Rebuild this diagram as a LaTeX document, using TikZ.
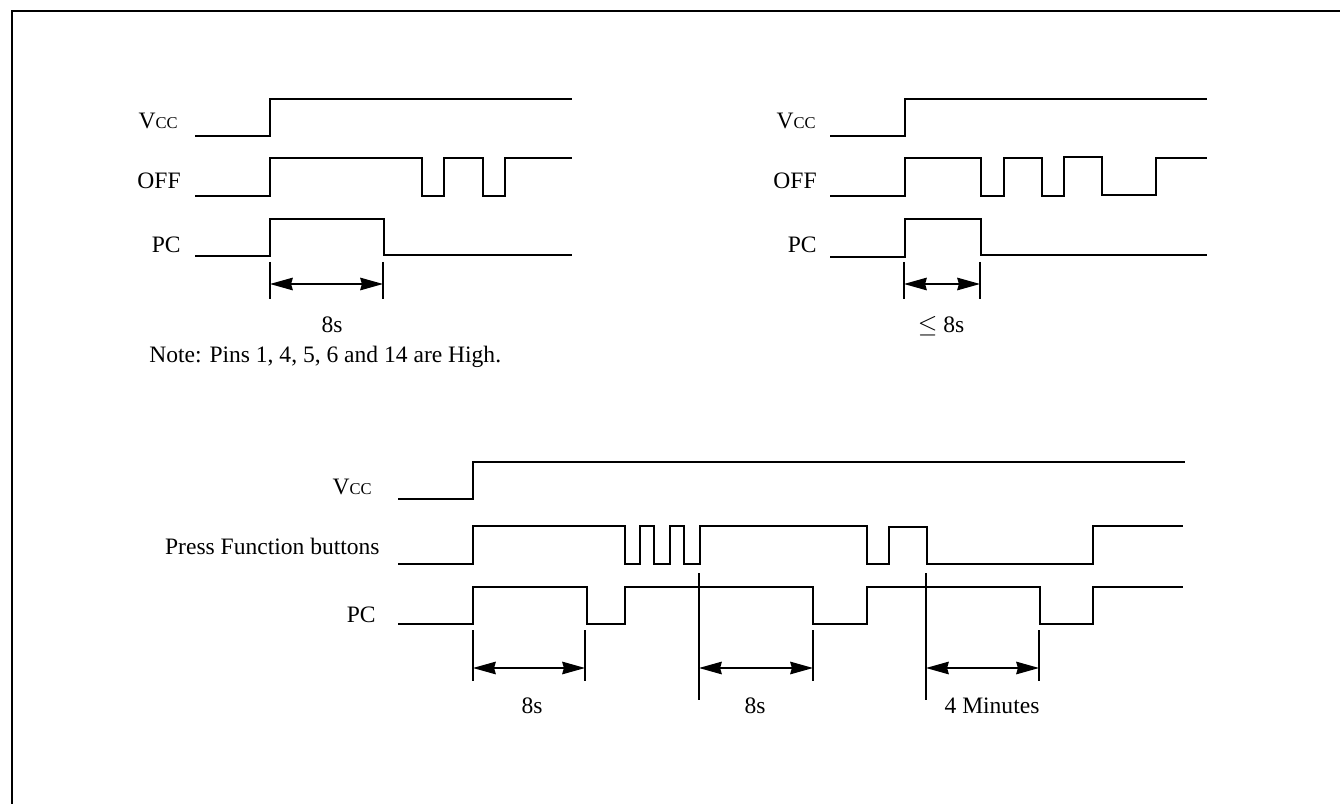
\documentclass[tikz,border=0pt]{standalone}
\usepackage{fontspec}
\setmainfont{Liberation Serif}
\usetikzlibrary{arrows.meta}
\newcommand{\vcc}{V{\fontsize{9.4}{11}\selectfont CC}}

\begin{document}
\begin{tikzpicture}[
    x=0.02cm, y=-0.02cm,
    wave/.style={line width=0.7pt, line join=miter},
    tick/.style={line width=0.7pt},
    dim/.style={{Stealth[length=13pt, width=7.2pt, inset=1pt]}-{Stealth[length=13pt, width=7.2pt, inset=1pt]}, line width=0.7pt},
    lbl/.style={inner sep=0pt, font=\fontsize{13.4}{16}\selectfont}
]
\useasboundingbox (0,0) rectangle (1340,804);
\draw[line width=1.2pt] (12,804) -- (12,11) -- (1340,11);

% top left
\node[lbl, anchor=base east] (vccA) at (178,129) {\vcc};
\node[lbl, anchor=base east] (offA) at (181,189) {OFF};
\node[lbl, anchor=base east] (pcA) at (181,253) {PC};
\draw[wave] (195,136) -- (270,136) -- (270,99) -- (572,99);
\draw[wave] (195,196) -- (270,196) -- (270,158) -- (422,158) -- (422,196) -- (444,196) -- (444,158)
    -- (483,158) -- (483,196) -- (505,196) -- (505,158) -- (572,158);
\draw[wave] (195,256) -- (270,256) -- (270,219) -- (384,219) -- (384,255) -- (572,255);
\draw[tick] (270,262) -- (270,299);
\draw[tick] (383,262) -- (383,299);
\coordinate (dAl) at (270,284);
\coordinate (dAr) at (383,284);
\draw[dim] (dAl) -- (dAr);
\node[lbl, anchor=base] (tA) at (332,333) {8s};
\node[lbl, anchor=base west] (note) at (149,363) {Note: Pins 1, 4, 5, 6 and 14 are High.};

% top right
\node[lbl, anchor=base east] (vccB) at (816,129) {\vcc};
\node[lbl, anchor=base east] (offB) at (817,189) {OFF};
\node[lbl, anchor=base east] (pcB) at (817,253) {PC};
\draw[wave] (830,136) -- (905,136) -- (905,99) -- (1207,99);
\draw[wave] (830,196) -- (905,196) -- (905,158) -- (981,158) -- (981,196) -- (1004,196) -- (1004,158)
    -- (1042,158) -- (1042,196) -- (1064,196) -- (1064,157) -- (1102,157) -- (1102,195)
    -- (1156,195) -- (1156,158) -- (1207,158);
\draw[wave] (830,257) -- (905,257) -- (905,219) -- (981,219) -- (981,255) -- (1207,255);
\draw[tick] (904,262) -- (904,299);
\draw[tick] (980,262) -- (980,299);
\coordinate (dBl) at (904,284);
\coordinate (dBr) at (980,284);
\draw[dim] (dBl) -- (dBr);
\node[lbl, anchor=base] (tB) at (941,333) {$\leq$ 8s};

% bottom
\node[lbl, anchor=base east] (vccC) at (372,495) {\vcc};
\node[lbl, anchor=base east] (pfb) at (380,554) {Press Function buttons};
\node[lbl, anchor=base east] (pcC) at (376,622) {PC};
\draw[wave] (398,499) -- (473,499) -- (473,462) -- (1185,462);
\draw[wave] (398,564) -- (473,564) -- (473,526) -- (625,526) -- (625,564) -- (640,564) -- (640,526)
    -- (654,526) -- (654,564) -- (670,564) -- (670,526) -- (684,526) -- (684,564) -- (700,564)
    -- (700,526) -- (867,526) -- (867,564) -- (889,564) -- (889,527) -- (927,527) -- (927,564)
    -- (1093,564) -- (1093,526) -- (1183,526);
\draw[wave] (398,624) -- (473,624) -- (473,587) -- (587,587) -- (587,624) -- (625,624) -- (625,587)
    -- (813,587) -- (813,624) -- (867,624) -- (867,587) -- (1040,587) -- (1040,624) -- (1093,624)
    -- (1093,587) -- (1183,587);
\draw[tick] (473,630) -- (473,681);
\draw[tick] (585,630) -- (585,681);
\draw[tick] (699,573) -- (699,700);
\draw[tick] (813,630) -- (813,681);
\draw[tick] (926,573) -- (926,700);
\draw[tick] (1039,630) -- (1039,681);
\coordinate (dCl) at (473,668);
\coordinate (dCr) at (585,668);
\coordinate (dDl) at (699,668);
\coordinate (dDr) at (813,668);
\coordinate (dEl) at (926,668);
\coordinate (dEr) at (1039,668);
\draw[dim] (dCl) -- (dCr);
\draw[dim] (dDl) -- (dDr);
\draw[dim] (dEl) -- (dEr);
\node[lbl, anchor=base] (tC) at (532,713) {8s};
\node[lbl, anchor=base] (tD) at (755,713) {8s};
\node[lbl, anchor=base] (tE) at (992,713) {4 Minutes};
\end{tikzpicture}
\end{document}
